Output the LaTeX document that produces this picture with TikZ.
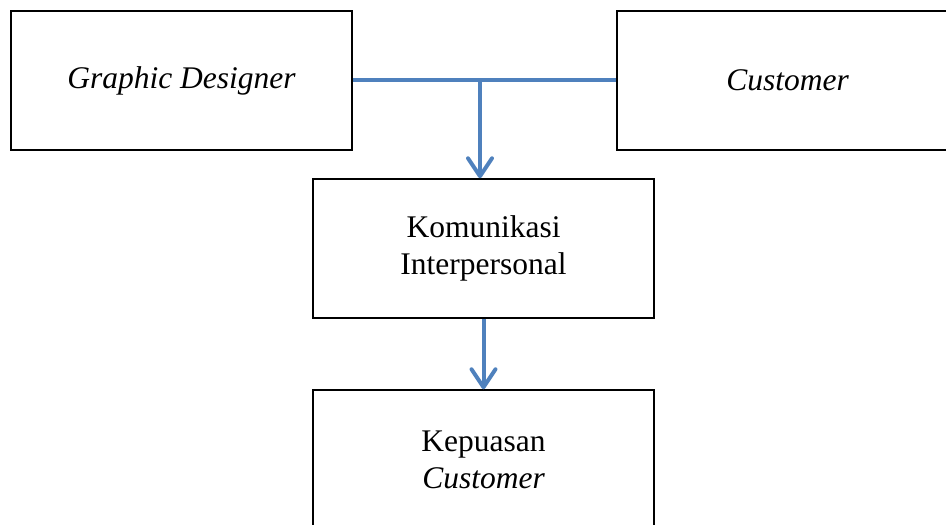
\documentclass[tikz,border=0pt]{standalone}
\usepackage{fontspec}
\setmainfont{Liberation Serif}
\usetikzlibrary{arrows.meta}
\definecolor{offblue}{RGB}{79,129,189}
\begin{document}
\begin{tikzpicture}[x=0.5pt,y=-0.5pt,
  boxnode/.style={draw=black,line width=0.75pt,minimum width=170.5pt,minimum height=69.5pt,inner sep=0pt,align=center,font=\fontsize{15.75}{18.5}\selectfont},
  bluelink/.style={draw=offblue,line width=2pt},
  bluearrow/.style={bluelink,-{Straight Barb[length=9pt,width=12pt,line cap=round,line join=round]}}]
\useasboundingbox (0,0) rectangle (946,524);
\clip (0,0) rectangle (946,524);
\node[boxnode] (gd) at (181.5,80.5) {\itshape Graphic Designer};
\node[boxnode] (cu) at (787.5,80.5) {\itshape Customer};
\node[boxnode] (ko) at (483.5,248.5) {Komunikasi\\Interpersonal};
\node[boxnode] (kp) at (483.5,459.5) {Kepuasan\\\itshape Customer};
\coordinate (j) at (480,80.5);
\draw[bluelink] (gd.east) -- (cu.west);
\draw[bluearrow] (j) -- (j |- ko.north);
\draw[bluearrow] (ko.south) -- (kp.north);
\end{tikzpicture}
\end{document}
